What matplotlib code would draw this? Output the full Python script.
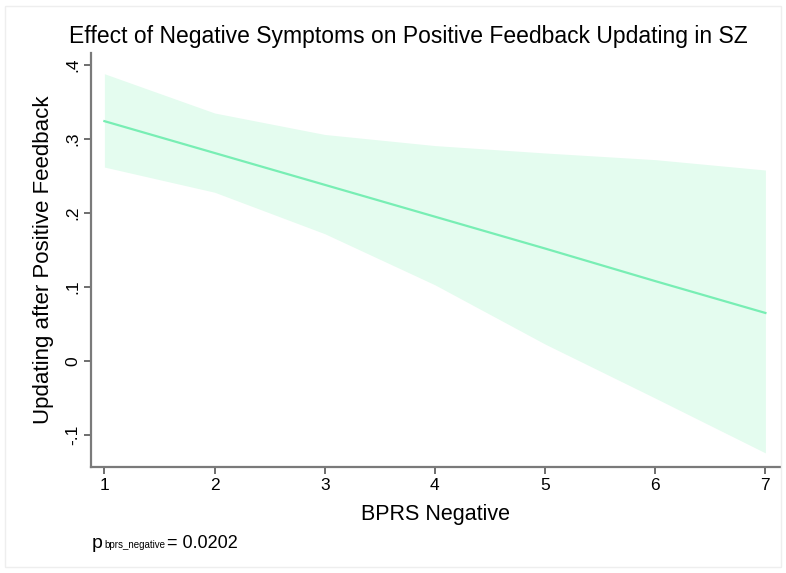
import matplotlib.pyplot as plt
from matplotlib.patches import Rectangle

plt.rcParams['font.family'] = ['Liberation Sans', 'DejaVu Sans']

# data
bprs_neg = [1, 2, 3, 4, 5, 6, 7]
fit = [0.324, 0.281, 0.238, 0.195, 0.152, 0.108, 0.065]
ci_upper = [0.388, 0.335, 0.306, 0.291, 0.281, 0.272, 0.258]
ci_lower = [0.262, 0.228, 0.172, 0.103, 0.023, -0.050, -0.124]

xticks = [1, 2, 3, 4, 5, 6, 7]
yticks = [-0.1, 0, 0.1, 0.2, 0.3, 0.4]
ylabels = ['-.1', '0', '.1', '.2', '.3', '.4']

fig = plt.figure(figsize=(7.86, 5.73), dpi=100)
ax = fig.add_axes([0.1160, 0.185, 0.876, 0.7225])

ax.fill_between(bprs_neg, ci_lower, ci_upper, color='#e4fcef', linewidth=0)
ax.plot(bprs_neg, fit, color='#78eeb4', linewidth=1.6)

ax.set_xlim(0.88, 7.13)
ax.set_ylim(-0.143, 0.416)
ax.set_xticks(xticks)
ax.set_xticklabels([str(t) for t in xticks], fontsize=12.5)
ax.set_yticks(yticks)
ax.set_yticklabels(ylabels, fontsize=12.5, rotation=90, va='center')

for s in ['top', 'right']:
    ax.spines[s].set_visible(False)
for s in ['left', 'bottom']:
    ax.spines[s].set_color('#7a7a7a')
    ax.spines[s].set_linewidth(1.6)
ax.tick_params(direction='out', length=5, width=1.2, color='#555555', pad=3)

ax.set_xlabel('BPRS Negative', fontsize=15.5, labelpad=8)
ax.set_ylabel('Updating after Positive Feedback', fontsize=16, labelpad=8)
fig.text(0.52, 0.936, 'Effect of Negative Symptoms on Positive Feedback Updating in SZ',
         fontsize=16.5, ha='center', va='center')

# p-value note: big p, tiny subscript, then the value
fig.text(0.117, 0.044, 'p', fontsize=14)
fig.text(0.133, 0.044, 'bprs_negative', fontsize=7)
fig.text(0.2125, 0.044, '= 0.0202', fontsize=13)

fig.patches.append(Rectangle((0.006, 0.01), 0.988, 0.98, transform=fig.transFigure,
                             fill=False, edgecolor='#eeeeee', linewidth=1))

fig.savefig('out.png', dpi=100)
